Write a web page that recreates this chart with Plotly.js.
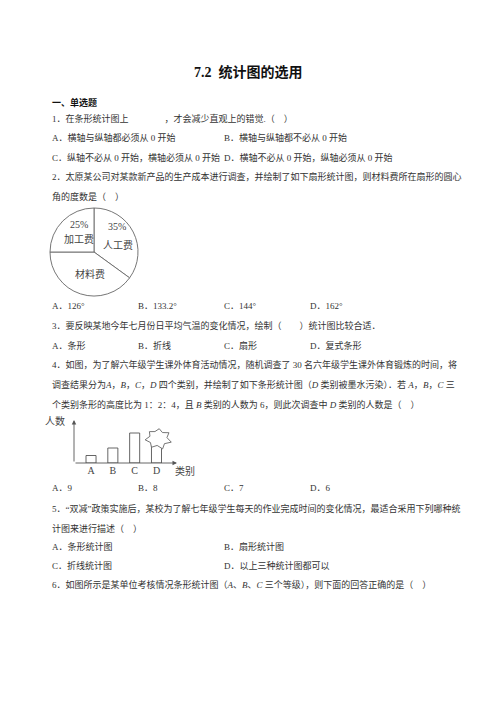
<!DOCTYPE html>
<html><head><meta charset="utf-8">
<script src="https://cdn.plot.ly/plotly-3.0.1.min.js"></script>
<style>html,body{margin:0;padding:0;background:#fff}#c{width:496px;height:702px}</style>
</head><body><div id="c"></div>
<script>
// ---- data ----
const pieLabels = ['人工费', '材料费', '加工费'];
const pieValues = [35, 40, 25];
const pieShowPct = [true, false, true];
const barCats = ['A', 'B', 'C', 'D'];
const barValues = [3, 6, 12, 9];
const q2Options = ['A．126°', 'B．133.2°', 'C．144°', 'D．162°'];
const q3Options = ['A．条形', 'B．折线', 'C．扇形', 'D．复式条形'];
const q4Options = ['A．9', 'B．8', 'C．7', 'D．6'];
const q1Options = ['A．横轴与纵轴都必须从 0 开始', 'B．横轴与纵轴都不必从 0 开始', 'C．纵轴不必从 0 开始，横轴必须从 0 开始', 'D．横轴不必从 0 开始，纵轴必须从 0 开始'];
const q5Options = ['A．条形统计图', 'B．扇形统计图', 'C．折线统计图', 'D．以上三种统计图都可以'];

const W = 496, H = 702;
const px = x => x / W, py = y => 1 - y / H;
const FONT = 'Liberation Serif, "Noto Sans CJK SC", serif';
const TC = '#333';
const ann = [];
function t(x, y, text, opt) {
  opt = opt || {};
  ann.push({xref: 'paper', yref: 'paper', x: px(x), y: py(y), text: text, showarrow: false,
    xanchor: opt.xa || 'left', yanchor: 'middle',
    font: {family: FONT, size: opt.size || 9, color: opt.color || TC}});
}
t(248, 72, '<b>7.2  统计图的选用</b>', {xa: 'center', size: 14, color: '#111'});
t(50, 102, '<b>一、单选题</b>', {size: 9, color: '#111'});
t(50, 118, '1．在条形统计图上　　　　，才会减少直观上的错觉.（　）');
t(50, 137, q1Options[0]); t(222, 137, q1Options[1]);
t(50, 157, q1Options[2]); t(222, 157, q1Options[3]);
t(50, 176, '2．太原某公司对某款新产品的生产成本进行调查，并绘制了如下扇形统计图，则材料费所在扇形的圆心');
t(50, 196, '角的度数是（　）');
const col4 = [50, 136, 222, 308];
q2Options.forEach((s, i) => t(col4[i], 306, s));
t(50, 325, '3．要反映某地今年七月份日平均气温的变化情况，绘制（　　）统计图比较合适．');
q3Options.forEach((s, i) => t(col4[i], 345, s));
t(50, 364, '4．如图，为了解六年级学生课外体育活动情况，随机调查了 30 名六年级学生课外体育锻炼的时间，将');
t(50, 384, '调查结果分为<i>A</i>，<i>B</i>，<i>C</i>，<i>D</i> 四个类别，并绘制了如下条形统计图（<i>D</i> 类别被墨水污染）．若 <i>A</i>，<i>B</i>，<i>C</i> 三');
t(50, 404, '个类别条形的高度比为 1：2：4，且 <i>B</i> 类别的人数为 6，则此次调查中 <i>D</i> 类别的人数是（　）');
q4Options.forEach((s, i) => t(col4[i], 488, s));
t(50, 508, '5．“双减”政策实施后，某校为了解七年级学生每天的作业完成时间的变化情况，最适合采用下列哪种统');
t(50, 528, '计图来进行描述（　）');
t(50, 546, q5Options[0]); t(222, 546, q5Options[1]);
t(50, 565, q5Options[2]); t(222, 565, q5Options[3]);
t(50, 584, '6．如图所示是某单位考核情况条形统计图（<i>A</i>、<i>B</i>、<i>C</i> 三个等级），则下面的回答正确的是（　）');

// pie labels
const pieLabelPos = [[117, 226, 118, 245], [90, 274, 90, 274], [79, 224, 79, 239]];
pieLabels.forEach((lab, i) => {
  const p = pieLabelPos[i];
  if (pieShowPct[i]) t(p[0], p[1], pieValues[i] + '%', {xa: 'center', size: 10, color: '#444'});
  t(p[2], p[3], lab, {xa: 'center', size: 10, color: '#444'});
});

// bar chart axis labels
t(55, 421, '人数', {xa: 'center', size: 10, color: '#444'});
t(185, 471, '类别', {xa: 'center', size: 10, color: '#444'});

const xr = [-0.78, 3.94], yr = [0, 17.2];
// axis arrows
ann.push({xref: 'x', yref: 'y', axref: 'x', ayref: 'y', x: xr[1], y: 0, ax: xr[0], ay: 0, text: '',
  showarrow: true, arrowhead: 2, arrowsize: 1, arrowwidth: 0.9, arrowcolor: '#555'});
ann.push({xref: 'x', yref: 'y', axref: 'x', ayref: 'y', x: xr[0], y: yr[1], ax: xr[0], ay: 0, text: '',
  showarrow: true, arrowhead: 2, arrowsize: 1, arrowwidth: 0.9, arrowcolor: '#555'});

// ink blot (irregular star) over the top of the D bar
const uxPx = 103 / (xr[1] - xr[0]), uyPx = 43 / (yr[1] - yr[0]);
const cx = 3 + 0.07, cy = barValues[3] + 2 / uyPx;
const radii = [12, 8.5, 13, 9, 14, 9, 13.5, 8.5, 12.5, 9, 13, 8.5, 12, 9];
let path = '';
radii.forEach((r, k) => {
  const a = -Math.PI / 2 + k * Math.PI / 7 + 0.1;
  const x = cx + r * Math.cos(a) / uxPx, y = cy - 0.82 * r * Math.sin(a) / uyPx;
  path += (k === 0 ? 'M' : 'L') + x.toFixed(3) + ',' + y.toFixed(3) + ' ';
});
path += 'Z';

const data = [
  {type: 'pie', labels: pieLabels, values: pieValues, sort: false, direction: 'clockwise', rotation: 0,
   textinfo: 'none', hoverinfo: 'skip', showlegend: false,
   marker: {colors: ['#fff', '#fff', '#fff'], line: {color: '#666', width: 0.9}},
   domain: {x: [px(50), px(138)], y: [py(296), py(208)]}},
  {type: 'bar', x: barCats, y: barValues, width: 0.46, hoverinfo: 'skip', showlegend: false,
   marker: {color: '#fff', line: {color: '#555', width: 0.9}}}
];
const layout = {
  width: W, height: H, margin: {l: 0, r: 0, t: 0, b: 0}, paper_bgcolor: '#fff', plot_bgcolor: 'rgba(0,0,0,0)',
  showlegend: false,
  xaxis: {domain: [px(74), px(177)], range: xr, type: 'category', showgrid: false, zeroline: false, showline: false,
    ticks: '', tickfont: {family: FONT, size: 10, color: '#444'}, fixedrange: true},
  yaxis: {domain: [py(463), py(420)], range: yr, showgrid: false, zeroline: false, showline: false,
    showticklabels: false, ticks: '', fixedrange: true},
  annotations: ann,
  shapes: [{type: 'path', xref: 'x', yref: 'y', path: path, fillcolor: '#fff', line: {color: '#666', width: 0.9}, layer: 'above'}]
};
Plotly.newPlot('c', data, layout, {staticPlot: true, displayModeBar: false});
</script></body></html>
